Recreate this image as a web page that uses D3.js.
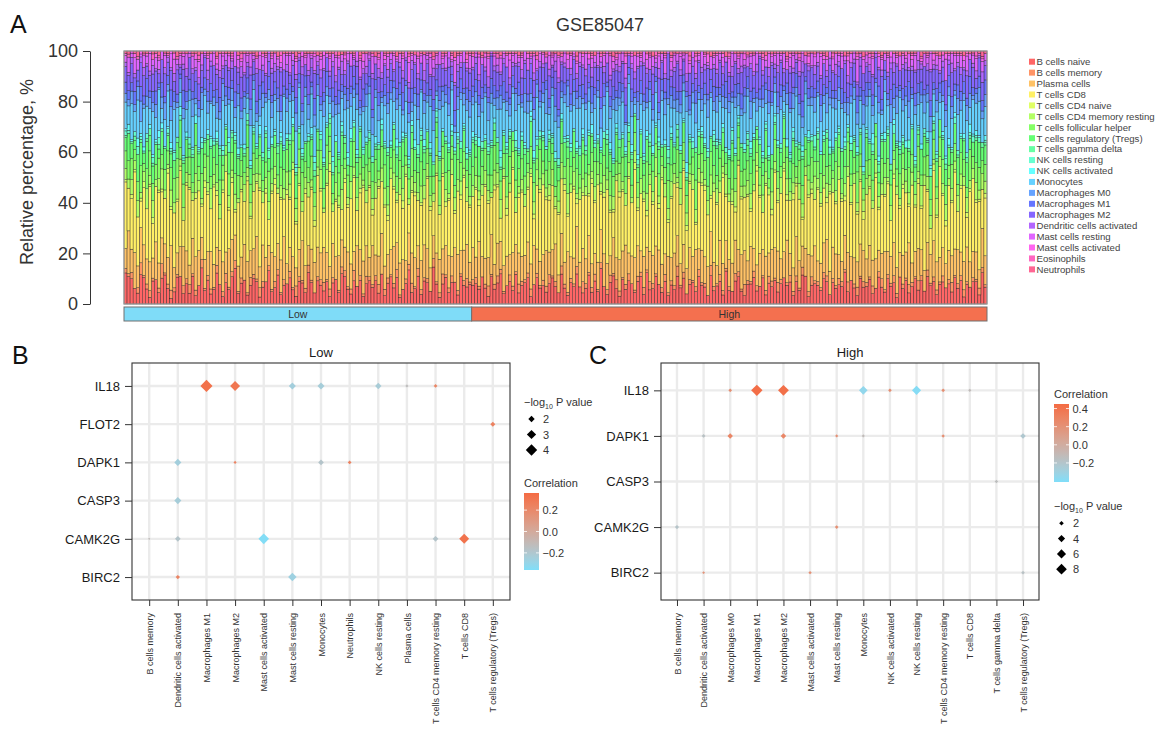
<!DOCTYPE html>
<html><head><meta charset="utf-8">
<script src="https://cdn.jsdelivr.net/npm/d3@7"></script>
<style>
body{margin:0;background:#fff;}
svg{font-family:"Liberation Sans",Arial,Helvetica,sans-serif;}
</style>
</head><body>
<svg id="chart" width="1158" height="731"></svg>
<script>
// ---------------- Panel A data ----------------
const groupNames = ["Low", "High"];
const groupSizes = [114, 169];
const cellTypes = ["B cells naive","B cells memory","Plasma cells","T cells CD8","T cells CD4 naive","T cells CD4 memory resting","T cells follicular helper","T cells regulatory (Tregs)","T cells gamma delta","NK cells resting","NK cells activated","Monocytes","Macrophages M0","Macrophages M1","Macrophages M2","Dendritic cells activated","Mast cells resting","Mast cells activated","Eosinophils","Neutrophils"];

const bCellsNaive = [14,9,12,7,4,10,13,6,3,8,11,5,9,14,7,2,6,10,12,4,8,5,11,3,9,13,6,10,4,7,12,8,3,9,6,11,14,5,8,10,4,7,12,9,3,6,10,13,5,8,11,4,7,9,12,6,3,10,8,5,13,9,4,11,7,6,10,3,8,12,5,9,14,6,4,11,7,10,3,8,12,6,9,5,11,4,8,13,7,10,3,6,9,12,5,8,11,4,7,10,6,13,9,3,8,11,5,10,7,4,12,8,6,9,
7,10,5,12,8,3,11,6,9,13,4,8,10,6,12,5,9,7,11,3,8,12,6,10,4,9,13,7,5,11,8,3,10,6,12,9,4,7,11,5,10,6,13,8,4,9,11,7,3,12,6,10,8,5,9,13,4,11,7,6,12,8,5,10,3,9,7,11,6,13,4,8,10,5,12,7,9,3,11,6,8,10,4,12,7,5,9,11,6,3,10,8,13,5,7,12,4,9,6,11,5,9,12,7,10,4,8,6,11,13,3,9,7,10,5,12,8,4,11,6,9,7,13,5,10,8,3,12,6,9,11,4,7,10,8,5,12,6,9,3,11,7,10,4,8,12,6,9,5,13,7,10,4,8,11,6,9,5,12,7,10,3,8,6,11,9,4,12,7];
const bCellsMemory = [2,1,3,0,2,4,1,2,3,1,0,2,5,1,2,3,2,1,0,3,2,4,1,2,0,3,1,2,2,1,3,0,2,4,1,2,3,1,2,0,1,3,2,1,4,2,0,2,1,3,2,1,2,0,3,1,4,2,1,2,3,1,0,2,2,4,1,3,2,0,1,2,3,1,2,5,0,2,1,3,2,1,2,4,0,3,2,1,2,3,1,0,2,2,4,1,3,2,1,2,0,3,1,2,4,1,2,3,0,2,1,2,3,1,
2,3,1,0,2,4,1,2,3,2,1,0,3,2,1,4,2,1,2,3,0,2,1,3,2,4,1,2,0,3,2,1,2,1,3,0,4,2,1,2,3,1,2,0,2,3,1,4,2,1,2,3,0,1,2,2,3,1,4,2,1,0,2,3,1,2,2,4,1,3,0,2,1,2,3,1,2,0,4,2,1,3,2,1,2,0,3,2,1,4,2,1,3,2,0,1,2,3,2,1,4,2,0,1,3,2,2,1,3,0,2,4,1,2,1,3,2,0,2,1,3,2,1,4,0,2,3,1,2,2,1,3,0,2,4,1,2,1,3,2,0,2,1,3,2,1,4,2,0,3,1,2,2,1,3,0,2,4,1,2,2,3,1,0,2,1,3,2,1];
const plasmaCells = [9,14,11,16,8,12,15,10,13,7,17,11,9,14,12,16,10,8,13,15,11,9,14,12,17,8,13,10,15,11,7,14,12,9,16,13,10,12,8,15,14,10,12,17,9,13,11,8,15,12,10,14,16,9,11,13,7,12,15,10,8,13,11,14,10,16,12,9,13,11,15,8,12,14,10,9,16,11,13,12,10,14,8,13,15,11,9,12,16,10,14,12,8,11,13,15,9,12,10,14,11,8,13,15,10,12,14,9,11,16,10,13,12,9,
12,10,15,9,13,11,16,8,14,12,10,13,9,15,11,14,12,8,13,10,16,11,9,14,12,10,13,15,8,12,11,14,10,9,16,13,12,11,14,10,9,13,12,15,11,8,14,10,12,13,16,9,11,14,12,10,13,8,15,11,12,14,10,9,13,11,16,12,8,14,10,13,11,15,9,12,14,10,13,11,8,15,12,10,14,11,13,9,16,12,10,14,11,8,13,12,15,10,11,14,13,9,12,16,10,11,14,12,8,13,15,10,12,11,9,14,13,10,16,12,11,8,14,12,10,13,9,15,11,12,14,10,13,8,12,16,11,9,14,12,10,13,11,15,9,12,14,10,8,13,11,16,12,10,14,9,13,11,12,15,10,12,14,9,13,11,8,15,12];
const tCellsCD8 = [30,14,24,36,18,9,28,20,34,12,25,31,16,22,38,13,27,19,33,10,26,35,15,21,29,11,32,24,17,37,20,13,28,34,16,23,9,30,25,18,36,12,27,21,33,15,29,10,24,35,19,26,14,31,22,37,17,28,11,32,20,25,13,34,23,16,30,38,12,27,21,9,33,18,26,35,14,24,29,17,36,11,22,31,19,28,13,34,25,15,30,21,37,10,26,32,18,23,14,33,27,12,35,20,29,16,24,38,11,28,22,31,15,25,
19,33,12,27,36,21,15,30,24,10,34,18,28,37,13,25,31,16,22,35,11,29,26,38,17,23,32,14,27,20,36,12,30,24,9,33,19,28,15,34,22,37,13,26,31,18,10,35,24,29,16,32,21,38,14,27,23,11,33,20,30,17,36,25,12,28,34,19,22,37,15,26,31,10,29,24,35,18,13,32,27,21,38,16,30,23,11,34,26,19,33,14,28,36,22,17,31,25,12,35,20,29,37,15,24,32,18,27,10,34,23,30,16,38,21,26,13,33,28,19,35,24,14,31,22,37,17,29,11,33,25,20,36,15,28,23,32,12,27,34,18,30,25,13,36,21,28,16,33,24,10,31,19,37,26,14,29,22,35,17,27,32,12,25,36,20,30,15,24];
const tCellsCD4Naive = [1,0,2,1,0,1,3,0,1,2,0,1,1,0,2,1,0,1,2,0,1,1,0,2,0,1,3,1,0,1,2,0,1,0,1,2,1,0,1,0,2,1,0,1,1,0,2,0,1,3,0,1,0,2,1,0,1,1,0,2,0,1,2,0,1,0,1,3,0,1,1,0,2,1,0,1,0,2,1,0,1,2,0,1,0,1,2,0,1,1,0,3,1,0,1,2,0,1,0,1,2,0,1,0,1,2,1,0,1,0,2,1,0,1,
0,1,2,0,1,1,0,2,1,0,1,3,0,1,0,2,1,0,1,1,2,0,1,0,1,2,0,1,1,0,3,1,0,1,2,0,1,0,1,2,1,0,1,2,0,1,1,0,2,1,0,1,0,3,1,0,1,2,0,1,0,2,1,0,1,1,0,2,0,1,2,1,0,1,0,1,3,0,1,0,1,0,2,1,0,1,2,0,1,0,1,1,0,2,1,0,1,0,2,1,1,0,1,2,0,3,1,0,1,0,1,2,0,1,1,0,2,1,0,1,0,1,2,0,1,0,1,1,3,0,1,0,2,1,0,1,1,0,2,0,1,2,0,1,0,1,2,1,0,1,0,3,1,0,1,2,0,1,1,0,1,0,2,1,0,1,1,0,2];
const tCellsCD4MemResting = [5,3,7,4,6,2,5,8,4,6,3,5,7,4,2,6,5,8,3,5,4,6,3,7,5,2,6,4,8,5,3,6,4,7,5,3,6,2,5,7,4,5,8,3,6,4,5,7,3,6,2,5,4,8,6,3,5,7,4,5,6,3,5,4,7,2,6,5,3,8,4,6,5,3,7,4,5,6,2,5,7,4,6,3,5,8,4,5,6,3,7,5,4,2,6,5,3,7,4,6,5,3,8,4,6,5,2,7,4,5,6,3,5,4,
4,6,3,5,7,4,2,6,5,8,3,5,4,7,6,3,5,4,6,2,5,7,4,6,3,5,8,4,5,6,3,7,4,5,2,6,5,4,7,3,6,5,3,8,4,6,5,3,7,4,5,6,2,5,4,7,3,6,5,4,8,3,5,6,4,7,5,2,6,4,5,3,7,5,6,4,3,5,8,4,6,5,3,7,4,5,6,2,5,4,7,6,3,5,4,8,5,3,6,4,5,7,3,6,4,5,2,7,5,4,6,3,8,5,4,6,5,3,7,4,6,2,5,4,7,5,3,6,4,8,5,3,6,4,5,7,2,5,6,4,3,7,5,4,6,5,3,8,4,6,5,2,7,4,5,6,3,5,4,7,5,4,6,3,5,7,4,6,5];
const tCellsFollicular = [8,6,10,5,7,9,4,8,11,6,7,9,5,10,6,8,12,7,5,9,6,8,4,10,7,9,6,11,5,8,7,10,6,4,9,7,8,11,6,5,9,7,10,6,8,4,7,12,6,9,5,8,7,10,6,9,4,8,11,7,6,10,5,8,7,9,11,6,4,8,10,7,5,9,6,12,8,7,5,10,7,6,9,4,8,11,7,5,10,6,8,9,4,7,12,6,8,10,5,7,9,6,8,11,5,7,10,6,4,9,8,7,6,10,
7,9,5,8,11,6,7,10,4,8,6,9,12,5,7,8,10,6,4,9,8,5,11,7,6,10,8,4,9,7,6,12,8,5,10,7,9,6,4,8,11,6,7,9,5,10,8,6,4,12,7,9,5,8,6,10,7,11,5,8,6,9,4,7,10,8,5,11,6,9,7,4,8,12,6,7,10,5,9,8,6,10,7,4,8,11,5,9,7,6,10,8,12,5,7,9,6,4,8,10,7,5,11,8,6,9,4,10,7,8,6,12,5,9,7,10,6,8,4,11,9,6,7,10,5,8,11,6,4,9,7,8,10,5,12,6,9,7,4,8,10,7,5,9,8,6,11,4,7,10,6,9,5,8,12,7,6,10,8,5,9,7,4,11,6,8,10,5,7];
const tCellsTregs = [6,9,7,4,10,8,5,11,7,6,9,4,8,10,7,5,9,6,12,8,7,4,10,8,6,9,5,7,11,6,8,10,4,7,9,6,12,8,5,7,10,6,9,4,8,7,11,5,9,6,8,10,7,4,12,6,9,7,5,8,11,7,6,9,4,10,8,5,7,12,6,9,8,4,10,7,6,11,5,8,9,7,4,10,6,8,12,5,9,7,6,10,8,4,7,11,6,9,5,8,10,4,7,9,6,12,8,5,10,7,6,9,4,8,
9,6,10,7,4,8,11,6,9,5,7,10,8,4,12,6,9,7,5,10,8,6,4,11,7,9,5,10,6,8,12,4,7,9,6,10,5,8,11,7,6,9,4,8,10,7,5,12,6,9,8,4,10,7,6,11,5,8,9,6,7,10,4,9,6,12,8,5,7,10,6,9,4,11,8,6,7,10,5,9,12,6,8,4,10,7,9,5,11,6,8,7,10,4,9,6,12,8,5,7,10,6,9,4,8,11,7,5,10,6,9,8,4,12,7,6,10,5,9,8,6,11,7,4,10,8,6,9,5,12,7,10,6,4,8,9,11,5,7,10,8,4,9,6,12,7,5,10,8,6,9,4,11,7,10,6,8,5,9,12,6,8,10,4,7,9,11,5,8];
const tCellsGammaDelta = [1,0,1,2,0,1,0,1,3,1,0,2,1,0,1,1,0,2,0,1,0,2,1,0,1,0,1,2,1,0,1,3,0,1,0,2,1,1,0,1,2,0,1,0,1,1,2,0,1,0,3,1,0,1,2,0,1,0,1,1,0,1,2,1,0,1,0,2,1,0,1,1,3,0,1,0,2,1,0,1,1,0,1,2,0,1,1,0,2,1,0,1,0,1,3,0,1,2,1,0,1,0,2,1,0,1,1,0,1,2,0,1,0,1,
1,2,0,1,0,1,1,3,0,1,0,2,1,0,1,1,0,2,1,0,1,0,1,2,0,1,3,0,1,1,0,2,0,1,1,0,1,2,0,1,0,1,1,0,2,1,0,1,3,0,1,0,2,1,1,0,1,0,2,1,0,1,0,1,2,1,0,3,1,0,1,1,0,2,0,1,1,0,1,2,1,0,2,0,1,1,0,1,2,0,3,1,0,1,0,2,1,1,0,1,0,2,1,0,1,1,0,2,1,0,1,0,1,3,0,1,2,0,1,1,1,0,1,2,0,1,0,1,1,2,0,1,0,3,1,0,1,2,0,1,2,1,0,1,0,1,2,0,1,1,0,3,1,0,1,2,0,1,0,1,0,1,2,1,0,1,0,2,1];
const nkCellsResting = [2,1,0,2,3,1,1,2,0,2,1,3,0,1,2,1,4,0,2,1,1,3,2,0,1,2,1,0,3,2,1,1,2,0,4,1,2,1,0,2,3,1,2,1,0,2,1,3,0,2,1,2,1,0,3,1,2,2,1,0,2,1,3,0,2,1,1,2,4,0,1,2,1,3,0,2,1,1,2,0,3,2,1,0,2,1,2,1,0,3,2,1,1,2,0,1,4,2,1,0,2,1,3,1,0,2,1,2,0,1,3,1,2,1,
1,2,0,3,1,2,1,0,2,4,1,1,2,0,3,1,2,1,0,2,1,3,2,1,0,2,1,1,3,0,2,1,2,0,1,4,1,2,1,0,2,1,0,3,2,1,1,2,0,2,1,3,1,0,2,1,2,1,4,0,1,2,1,0,3,2,1,2,0,1,2,1,3,0,2,1,1,2,0,3,2,1,0,2,1,4,1,2,0,1,3,2,1,0,2,1,2,1,0,3,1,2,1,0,2,3,1,1,2,0,1,2,4,1,0,2,1,3,1,0,2,1,2,0,3,1,1,2,0,2,1,3,0,1,2,1,2,0,4,1,1,2,0,3,1,2,1,0,2,1,3,1,2,0,1,2,1,0,3,2,1,0,2,1,3,1,2,0,1];
const nkCellsActivated = [1,2,1,0,3,1,2,0,2,1,1,3,2,0,1,2,1,0,4,1,2,0,1,3,1,2,0,2,1,1,3,0,2,1,2,0,1,3,1,2,0,2,1,1,4,0,2,1,3,1,0,2,1,2,0,3,1,1,2,0,1,3,2,0,1,2,1,0,2,3,1,1,0,2,4,1,2,0,1,2,1,0,3,1,2,1,0,2,1,3,0,2,1,1,2,4,0,1,2,1,3,0,1,2,1,0,2,3,1,2,0,1,2,1,
2,1,3,0,2,1,1,2,0,3,1,2,1,0,4,1,2,1,0,2,3,1,0,2,1,2,1,3,0,2,1,1,2,0,3,1,2,0,1,4,1,2,1,0,2,3,1,2,0,1,2,1,3,0,2,1,1,2,0,3,1,2,0,2,1,3,1,0,2,1,4,1,2,0,1,2,3,1,0,2,1,1,2,0,3,1,2,1,0,2,1,3,2,0,1,2,1,4,0,1,2,0,1,3,1,2,1,0,2,1,3,1,0,2,1,2,0,3,1,2,1,0,2,1,3,1,2,0,2,1,1,4,0,2,1,3,1,0,2,1,2,1,3,0,1,2,1,2,0,3,1,2,1,0,2,1,3,1,2,0,1,2,0,3,1,2,1,0,2];
const monocytes = [12,6,17,9,14,4,19,11,7,15,10,18,5,13,16,8,20,11,6,14,9,17,12,4,15,10,19,7,13,16,5,11,18,8,14,12,6,20,10,15,7,13,17,9,4,16,11,19,8,14,12,5,18,10,15,7,13,17,9,20,6,14,11,16,8,19,12,4,15,10,17,7,13,18,9,11,16,5,14,12,19,8,15,10,6,17,13,20,9,11,16,7,14,12,4,18,10,15,8,13,17,11,6,19,9,14,12,16,5,10,18,8,13,15,
10,16,7,13,19,9,15,5,12,18,11,14,6,17,8,20,12,10,15,4,13,18,9,16,11,7,19,12,14,6,17,10,15,8,13,20,9,16,11,5,14,18,7,12,16,10,19,6,13,15,9,17,11,4,14,12,18,8,16,10,13,7,19,11,15,9,17,5,12,14,20,8,16,10,13,6,18,11,15,9,12,17,7,14,19,10,16,4,13,11,18,9,15,6,12,20,8,14,17,10,11,15,5,13,18,9,16,12,7,19,10,14,8,17,11,13,6,15,20,9,12,16,10,4,14,18,8,13,15,11,19,7,12,16,9,17,10,14,5,13,18,11,15,8,12,20,9,16,6,14,13,10,17,7,15,11,19,12,8,16,10,14,13,6,17,11,15,9,12];
const macrophagesM0 = [4,2,6,3,5,7,2,4,5,3,6,1,4,8,3,5,4,2,6,4,3,5,7,2,4,6,3,5,1,4,6,3,7,4,2,5,4,6,3,5,2,6,4,3,7,5,2,4,6,3,5,4,1,6,3,4,7,2,5,4,6,3,4,5,2,7,4,3,6,5,4,2,8,3,5,4,6,3,2,5,4,6,3,7,2,5,4,3,6,4,5,2,7,3,4,6,5,1,4,3,5,7,2,4,6,3,5,4,2,6,3,5,4,7,
3,5,4,6,2,7,4,3,5,6,1,4,5,3,7,4,2,6,5,3,4,6,2,5,8,3,4,6,5,2,4,7,3,5,4,6,2,3,5,4,6,3,7,4,2,5,4,6,3,5,1,4,6,3,7,5,4,2,6,4,5,3,4,7,2,6,4,5,3,4,6,2,5,8,3,4,5,6,2,4,7,3,5,4,6,2,4,5,3,6,4,7,2,5,3,4,6,5,1,4,3,6,5,4,2,7,3,5,4,6,3,4,5,2,6,4,7,3,5,4,6,2,4,5,3,6,4,2,7,5,3,4,6,4,2,5,3,6,4,8,3,5,4,6,2,4,5,3,7,4,6,2,5,4,3,6,4,5,2,7,4,3,6,5,2,4,6,3,5];
const macrophagesM1 = [5,3,4,6,2,5,4,7,3,4,6,2,5,3,4,6,5,3,2,7,4,5,3,6,4,2,5,4,7,3,5,6,2,4,5,3,6,4,5,2,7,4,3,5,6,4,2,5,3,6,4,7,3,4,5,2,6,4,3,5,4,2,6,5,3,4,7,3,5,4,6,2,4,5,3,6,4,3,7,4,5,3,4,6,2,5,4,6,3,4,5,7,2,4,6,3,5,4,2,6,3,4,5,6,2,4,7,3,5,4,6,2,4,5,
4,6,3,5,4,2,6,5,3,4,7,4,3,5,2,6,4,5,3,6,5,2,4,6,3,4,5,7,3,4,6,2,5,4,3,6,5,4,2,7,3,5,4,6,2,4,5,3,6,4,7,3,5,2,4,6,3,5,4,6,2,4,5,3,7,4,6,3,5,4,2,6,4,5,3,4,6,2,5,7,4,3,5,6,4,2,5,4,7,3,6,4,5,2,4,6,3,5,4,3,6,5,2,4,7,3,5,4,6,2,4,5,3,6,4,5,2,7,4,3,5,6,4,2,5,3,6,4,5,7,3,4,2,6,5,4,3,5,6,4,2,5,4,7,3,6,4,5,2,4,6,3,5,4,7,2,5,4,3,6,4,5,3,6,4,2,5,4,6];
const macrophagesM2 = [7,5,9,6,4,8,10,5,7,6,9,4,8,11,6,7,5,9,3,8,6,10,7,4,8,6,9,5,7,12,6,8,4,9,7,5,10,6,8,7,5,9,6,11,7,4,8,6,9,5,7,10,6,8,4,9,7,6,11,5,8,6,9,4,7,10,6,5,8,7,9,3,6,10,8,5,7,9,6,4,8,11,6,7,5,9,6,8,4,10,7,6,9,5,8,12,6,7,4,9,6,8,5,10,7,6,9,4,8,7,5,11,6,8,
6,8,5,10,7,4,9,6,8,5,7,11,6,4,9,7,8,5,10,6,7,4,9,8,6,10,5,7,12,6,8,4,9,7,5,10,6,8,7,4,9,6,11,5,8,7,6,9,4,10,7,5,8,6,9,7,12,5,6,8,4,10,7,6,9,5,8,11,6,7,4,9,8,5,10,6,7,9,4,8,6,11,5,7,9,6,8,4,10,7,5,9,6,8,12,5,7,6,9,4,8,10,6,5,9,7,4,8,11,6,7,9,5,8,6,10,4,7,9,6,5,8,12,6,7,9,4,10,6,8,5,7,9,6,11,4,8,7,5,10,6,9,7,4,8,10,6,5,9,7,11,6,8,4,7,9,5,10,6,8,7,5,9,6,10,4,8,7,6];
const dendriticActivated = [2,1,3,2,0,2,4,1,2,3,1,2,0,3,2,1,4,2,1,2,3,0,2,1,3,2,1,4,2,0,2,3,1,2,1,3,0,2,4,1,2,3,1,2,0,2,1,3,2,4,1,2,0,3,1,2,2,1,3,0,2,4,1,2,3,1,0,2,2,3,1,4,2,1,0,3,2,1,2,3,1,2,0,4,2,1,3,2,1,0,2,3,1,2,4,1,2,0,3,2,1,3,2,0,2,1,4,2,1,3,2,0,1,2,
1,3,2,0,2,4,1,2,3,1,2,0,3,2,1,2,4,1,0,2,3,1,2,2,0,3,1,4,2,1,2,0,3,1,2,2,1,3,0,4,2,1,2,3,0,2,1,3,2,1,4,0,2,3,1,2,1,2,0,3,2,4,1,2,0,3,2,1,2,1,3,0,4,2,1,2,3,1,0,2,2,1,3,0,2,4,1,2,3,1,0,2,2,3,1,2,0,4,1,2,3,1,2,0,3,2,1,2,4,0,2,1,3,2,1,0,2,3,1,4,2,0,1,3,2,2,1,4,0,2,3,1,2,1,3,0,2,2,4,1,0,2,3,1,2,1,4,2,0,3,1,2,2,1,3,0,2,4,1,2,3,1,2,0,2,3,1,4,2];
const mastResting = [3,5,2,7,4,1,6,3,8,2,5,4,3,6,1,5,7,2,4,3,6,2,5,3,8,4,1,5,3,6,2,7,4,3,5,1,6,4,2,8,3,5,2,4,6,3,7,1,4,5,3,2,6,4,8,3,5,2,4,3,7,1,5,3,4,6,2,5,3,9,4,2,6,3,5,1,4,7,3,5,2,6,3,4,8,2,5,3,6,1,4,5,3,7,2,4,6,3,5,2,8,3,4,6,2,5,3,1,7,4,3,5,2,6,
4,2,6,3,5,7,1,4,3,6,2,5,8,3,4,2,6,3,5,1,7,4,3,5,2,6,4,3,9,2,5,3,6,1,4,5,3,7,2,4,3,6,2,5,4,8,3,2,5,4,6,1,3,7,4,2,5,3,6,4,2,5,3,7,1,4,6,3,5,2,8,4,3,5,2,6,4,1,5,3,6,3,4,2,7,5,3,4,6,2,5,3,8,4,1,5,3,6,2,4,5,2,7,3,4,6,2,5,3,4,1,6,3,5,7,2,4,3,6,4,3,5,2,6,4,3,8,2,5,4,3,6,1,4,5,3,7,2,4,3,6,4,2,5,3,7,4,1,5,3,6,2,4,5,3,8,2,4,6,3,5,3,6,2,4,5,1,4,3];
const mastActivated = [1,0,1,2,0,1,0,1,1,0,2,1,0,1,0,1,3,0,1,1,0,1,0,2,1,0,1,1,0,1,2,0,1,0,1,1,0,2,1,0,1,0,1,0,2,1,1,0,1,0,1,3,0,1,1,0,1,0,2,1,0,1,1,0,1,2,0,1,0,1,1,0,2,1,0,1,0,1,3,0,1,1,0,1,0,2,1,0,1,1,0,1,0,2,1,0,1,1,0,1,2,0,1,0,1,1,0,2,1,0,1,0,1,1,
0,1,1,0,2,1,0,1,0,1,1,0,3,1,0,1,1,0,2,0,1,0,1,1,0,2,1,0,1,0,1,2,0,1,1,0,1,0,2,1,0,1,0,1,1,0,2,1,0,1,3,0,1,0,1,1,0,2,1,0,1,1,0,1,0,2,1,0,1,1,0,1,0,2,1,0,1,3,0,1,1,0,2,0,1,1,0,1,0,2,1,1,0,1,0,1,2,0,1,1,0,1,0,1,2,1,0,1,1,0,3,0,1,0,1,2,1,0,1,0,1,1,0,2,0,1,1,0,1,0,2,1,0,1,1,0,1,2,0,1,0,1,1,0,2,1,0,1,0,1,1,3,0,1,0,2,1,0,1,1,0,2,1,0,1,1,0,1,0];
const eosinophils = [0,1,0,0,1,0,1,0,0,2,0,1,0,0,1,0,0,1,0,1,0,0,1,0,2,0,0,1,0,0,1,0,1,0,0,1,0,0,2,0,1,0,0,1,0,0,1,0,1,0,0,2,0,0,1,0,1,0,0,1,0,0,1,0,1,0,0,1,0,2,0,0,1,0,0,1,0,1,0,0,1,0,0,2,0,1,0,0,1,0,0,1,0,1,0,0,2,0,0,1,0,1,0,0,1,0,0,1,0,1,0,0,2,0,
1,0,0,1,0,1,0,0,2,0,0,1,0,1,0,0,1,0,0,1,0,2,0,0,1,0,1,0,0,1,0,0,1,0,2,0,0,1,0,1,0,0,1,0,0,1,0,2,0,0,1,0,1,0,0,1,0,0,1,0,2,0,0,1,0,1,0,0,1,0,0,2,0,1,0,0,1,0,0,1,0,1,0,0,2,0,0,1,0,1,0,0,1,0,0,2,0,1,0,0,1,0,0,1,0,1,0,2,0,0,1,0,0,1,0,1,0,0,2,0,0,1,0,1,0,0,1,0,0,2,0,1,0,0,1,0,1,0,0,1,0,0,2,0,1,0,0,1,0,1,0,0,1,0,2,0,0,1,0,0,1,0,1,0,0,2,0,1,0];
const neutrophils = [1,1,0,1,2,0,1,1,0,1,1,2,0,1,1,0,1,2,1,0,1,0,1,1,2,1,0,1,1,0,2,1,0,1,1,1,0,2,1,1,0,1,1,2,0,1,1,0,1,1,2,0,1,1,0,1,2,1,0,1,1,1,0,2,1,0,1,1,1,0,2,1,1,0,1,1,0,2,1,1,0,1,2,1,0,1,1,1,0,2,1,1,0,1,1,2,0,1,1,0,1,2,1,0,1,1,0,1,2,1,1,0,1,1,
1,0,1,2,1,1,0,1,1,2,0,1,1,0,1,2,1,0,1,1,1,2,0,1,1,0,1,1,2,1,0,1,1,0,2,1,1,0,1,1,2,0,1,1,0,1,2,1,1,0,1,1,0,2,1,1,0,1,1,2,0,1,1,1,0,2,1,1,0,1,1,2,0,1,1,0,1,1,2,1,1,0,1,2,1,0,1,1,1,0,2,1,1,0,1,1,2,0,1,1,0,1,1,2,1,0,1,1,0,2,1,1,1,0,1,1,2,0,1,1,1,0,2,1,1,0,1,1,2,0,1,1,0,1,2,1,1,0,1,1,2,1,0,1,1,1,0,2,1,1,0,1,1,2,0,1,1,0,1,1,1,2,0,1,1,0,1,2,1];

const cellSeries = [bCellsNaive,bCellsMemory,plasmaCells,tCellsCD8,tCellsCD4Naive,tCellsCD4MemResting,tCellsFollicular,tCellsTregs,tCellsGammaDelta,nkCellsResting,nkCellsActivated,monocytes,macrophagesM0,macrophagesM1,macrophagesM2,dendriticActivated,mastResting,mastActivated,eosinophils,neutrophils];
const yTicksA = [0, 20, 40, 60, 80, 100];

// ---------------- Panel B data (Low) ----------------
const lowGenes = ["IL18","FLOT2","DAPK1","CASP3","CAMK2G","BIRC2"];
const lowCells = ["B cells memory","Dendritic cells activated","Macrophages M1","Macrophages M2","Mast cells activated","Mast cells resting","Monocytes","Neutrophils","NK cells resting","Plasma cells","T cells CD4 memory resting","T cells CD8","T cells regulatory (Tregs)"];
const lowPtGene = ["IL18","IL18","IL18","IL18","IL18","IL18","IL18","FLOT2","DAPK1","DAPK1","DAPK1","DAPK1","CASP3","CAMK2G","CAMK2G","CAMK2G","CAMK2G","CAMK2G","BIRC2","BIRC2"];
const lowPtCell = ["Macrophages M1","Macrophages M2","Mast cells resting","Monocytes","NK cells resting","Plasma cells","T cells CD4 memory resting","T cells regulatory (Tregs)","Dendritic cells activated","Macrophages M2","Monocytes","Neutrophils","Dendritic cells activated","B cells memory","Dendritic cells activated","Mast cells activated","T cells CD4 memory resting","T cells CD8","Dendritic cells activated","Mast cells resting"];
const lowPtCor = [0.33,0.30,-0.25,-0.24,-0.23,-0.13,0.22,0.24,-0.25,0.23,-0.18,0.24,-0.24,-0.12,-0.18,-0.35,-0.18,0.32,0.23,-0.27];
const lowPtLogP = [4.4,3.3,2.2,2.2,2.0,1.3,1.4,1.65,2.2,1.3,1.8,1.4,2.2,1.2,1.8,3.6,1.8,3.3,1.5,2.7];
const lowSizeBreaks = [2, 3, 4];
const lowCorTicks = [0.2, 0.0, -0.2];
const lowCorLimits = [-0.36, 0.36];

// ---------------- Panel C data (High) ----------------
const highGenes = ["IL18","DAPK1","CASP3","CAMK2G","BIRC2"];
const highCells = ["B cells memory","Dendritic cells activated","Macrophages M0","Macrophages M1","Macrophages M2","Mast cells activated","Mast cells resting","Monocytes","NK cells activated","NK cells resting","T cells CD4 memory resting","T cells CD8","T cells gamma delta","T cells regulatory (Tregs)"];
const highPtGene = ["IL18","IL18","IL18","IL18","IL18","IL18","IL18","IL18","DAPK1","DAPK1","DAPK1","DAPK1","DAPK1","DAPK1","DAPK1","CASP3","CAMK2G","CAMK2G","BIRC2","BIRC2","BIRC2"];
const highPtCell = ["Macrophages M0","Macrophages M1","Macrophages M2","Monocytes","NK cells activated","NK cells resting","T cells CD4 memory resting","T cells CD8","Dendritic cells activated","Macrophages M0","Macrophages M2","Mast cells resting","Monocytes","T cells CD4 memory resting","T cells regulatory (Tregs)","T cells gamma delta","B cells memory","Mast cells resting","Dendritic cells activated","Mast cells activated","T cells regulatory (Tregs)"];
const highPtCor = [0.22,0.43,0.42,-0.35,0.22,-0.39,0.22,-0.12,-0.17,0.28,0.28,0.20,-0.12,0.22,-0.22,-0.14,-0.19,0.22,0.18,0.20,-0.17];
const highPtLogP = [1.5,9.0,8.2,5.4,1.5,6.0,1.5,1.3,1.6,2.6,2.6,1.3,1.3,1.4,2.6,1.5,1.8,1.5,1.2,1.4,1.5];
const highSizeBreaks = [2, 4, 6, 8];
const highCorTicks = [0.4, 0.2, 0.0, -0.2];
const highCorLimits = [-0.41, 0.45];

// ---------------- styles ----------------
const palette = ["#FF6666","#FF9466","#FFC266","#FFF066","#E0FF66","#B3FF66","#85FF66","#66FF75","#66FFA3","#66FFD1","#66FFFF","#66D1FF","#66A3FF","#6675FF","#8566FF","#B366FF","#E066FF","#FF66F0","#FF66C2","#FF6694"];
const groupColors = ["#7FDCF8", "#F4704F"];
const corLow = "#7FDEF9", corHigh = "#F46B43";

const svg = d3.select("#chart");
const fmt = v => (v < 0 ? "\u2212" : "") + Math.abs(v).toFixed(1);

// ================= Panel A =================
const nSamples = d3.sum(groupSizes);
const samples = d3.range(nSamples).map(i => {
  const raw = cellSeries.map(s => (s[i] === undefined ? 0 : s[i]));
  const tot = d3.sum(raw) || 1;
  const o = {id: i};
  cellTypes.forEach((c, k) => { o[c] = raw[k] / tot * 100; });
  return o;
});
const stacked = d3.stack().keys(cellTypes)(samples);

const xA = d3.scaleBand().domain(d3.range(nSamples)).range([124, 987]).padding(0);
const yA = d3.scaleLinear().domain([0, 100]).range([304, 51]);
const colorA = d3.scaleOrdinal().domain(cellTypes).range(palette);

const gA = svg.append("g");
gA.append("text").attr("x", 10).attr("y", 33).attr("font-size", 25).attr("fill", "#111").text("A");
gA.append("text").attr("x", 600).attr("y", 31).attr("text-anchor", "middle").attr("font-size", 18).attr("fill", "#333").text("GSE85047");

const layers = gA.append("g").selectAll("g").data(stacked).join("g").attr("fill", d => colorA(d.key));
layers.selectAll("rect").data(d => d).join("rect")
  .attr("x", d => xA(d.data.id))
  .attr("width", xA.bandwidth())
  .attr("y", d => yA(d[1]))
  .attr("height", d => Math.max(0, yA(d[0]) - yA(d[1])))
  .attr("stroke", "#1e1e1e").attr("stroke-width", 0.45).attr("stroke-opacity", 0.85);

gA.append("rect").attr("x", 124).attr("y", 51).attr("width", 863).attr("height", 253)
  .attr("fill", "none").attr("stroke", "#9a9a9a").attr("stroke-width", 1.2);

const axA = d3.axisLeft(yA).tickValues(yTicksA).tickSize(7).tickSizeOuter(0).tickPadding(5);
const axGA = gA.append("g").attr("transform", "translate(90,0)").call(axA);
axGA.selectAll("text").attr("font-size", 18).attr("fill", "#333").attr("font-family", "Liberation Sans, Arial, sans-serif");
axGA.selectAll("line,path").attr("stroke", "#333");
gA.append("text").attr("transform", "translate(33,172) rotate(-90)").attr("text-anchor", "middle")
  .attr("font-size", 18).attr("fill", "#333").text("Relative percentage, %");

let start = 0;
groupNames.forEach((g, i) => {
  const x0 = xA(start), x1 = xA(start + groupSizes[i] - 1) + xA.bandwidth();
  gA.append("rect").attr("x", x0).attr("y", 307).attr("width", x1 - x0).attr("height", 14)
    .attr("fill", groupColors[i]).attr("stroke", "#707070").attr("stroke-width", 1);
  gA.append("text").attr("x", (x0 + x1) / 2).attr("y", 317.5).attr("text-anchor", "middle")
    .attr("font-size", 10.5).attr("fill", "#333").text(g);
  start += groupSizes[i];
});

const legA = gA.append("g");
cellTypes.forEach((c, i) => {
  const yy = 61.7 + i * 10.93;
  legA.append("rect").attr("x", 1029).attr("y", yy - 3).attr("width", 6).attr("height", 6).attr("fill", colorA(c));
  legA.append("text").attr("x", 1036.5).attr("y", yy + 3.3).attr("font-size", 9.6).attr("fill", "#444").text(c);
});

// ================= Dot plots =================
function diamond(w) { const r = w / 2; return `M0,${-r}L${r},0L0,${r}L${-r},0Z`; }

function dotPanel(cfg) {
  const g = svg.append("g");
  const x = d3.scalePoint().domain(cfg.cells).range([cfg.x0, cfg.x1]).padding(0.6);
  const y = d3.scalePoint().domain(cfg.genes).range([cfg.y0, cfg.y1]).padding(0.6);
  const area = d3.scaleLinear().domain(cfg.areaDomain).range(cfg.areaRange);
  const wOf = v => Math.sqrt(Math.max(area(v), 5));
  const col = d3.scaleLinear().domain(cfg.corLimits).range([corLow, corHigh]).interpolate(d3.interpolateLab).clamp(true);

  g.append("text").attr("x", cfg.letterX).attr("y", 364).attr("font-size", 25).attr("fill", "#111").text(cfg.letter);
  g.append("text").attr("x", (cfg.x0 + cfg.x1) / 2).attr("y", 357).attr("text-anchor", "middle")
    .attr("font-size", 13).attr("fill", "#1a1a1a").text(cfg.title);

  g.append("g").selectAll("line").data(cfg.genes).join("line")
    .attr("x1", cfg.x0).attr("x2", cfg.x1).attr("y1", d => y(d)).attr("y2", d => y(d))
    .attr("stroke", "#EBEBEB").attr("stroke-width", 2.4);
  g.append("g").selectAll("line").data(cfg.cells).join("line")
    .attr("y1", cfg.y0).attr("y2", cfg.y1).attr("x1", d => x(d)).attr("x2", d => x(d))
    .attr("stroke", "#EBEBEB").attr("stroke-width", 2.4);

  const pts = cfg.ptGene.map((gn, i) => ({gene: gn, cell: cfg.ptCell[i], cor: cfg.ptCor[i], lp: cfg.ptLogP[i]}));
  g.append("g").selectAll("path").data(pts).join("path")
    .attr("transform", d => `translate(${x(d.cell)},${y(d.gene)})`)
    .attr("d", d => diamond(wOf(d.lp)))
    .attr("fill", d => col(d.cor));

  g.append("rect").attr("x", cfg.x0).attr("y", cfg.y0).attr("width", cfg.x1 - cfg.x0).attr("height", cfg.y1 - cfg.y0)
    .attr("fill", "none").attr("stroke", "#333").attr("stroke-width", 1.1);

  const ay = d3.axisLeft(y).tickSize(7).tickPadding(5).tickSizeOuter(0);
  const gy = g.append("g").attr("transform", `translate(${cfg.x0},0)`).call(ay);
  gy.select(".domain").remove();
  gy.selectAll("line").attr("stroke", "#333");
  gy.selectAll("text").attr("font-size", 13).attr("fill", "#1a1a1a").attr("font-family", "Liberation Sans, Arial, sans-serif");

  const ax = d3.axisBottom(x).tickSize(6).tickPadding(0).tickSizeOuter(0);
  const gx = g.append("g").attr("transform", `translate(0,${cfg.y1})`).call(ax);
  gx.select(".domain").remove();
  gx.selectAll("line").attr("stroke", "#333");
  gx.selectAll("text").attr("font-size", 9).attr("fill", "#333").attr("font-family", "Liberation Sans, Arial, sans-serif")
    .attr("transform", "rotate(-90)").attr("text-anchor", "end").attr("x", -13).attr("y", 0).attr("dy", "0.35em");

  function sizeLegend(tx, ty) {
    const t = g.append("text").attr("x", tx).attr("y", ty).attr("font-size", 11).attr("fill", "#333");
    t.append("tspan").text("\u2212log");
    t.append("tspan").attr("font-size", 7).attr("dy", 3).text("10");
    t.append("tspan").attr("dy", -3).text(" P value");
    cfg.sizeBreaks.forEach((v, i) => {
      const yy = ty + cfg.sizeStep * (i + 1) - 2;
      g.append("path").attr("transform", `translate(${tx + 7.5},${yy})`).attr("d", diamond(wOf(v))).attr("fill", "#000");
      g.append("text").attr("x", tx + 19).attr("y", yy + 4).attr("font-size", 11).attr("fill", "#333").text(v);
    });
  }
  function colorLegend(tx, ty) {
    g.append("text").attr("x", tx).attr("y", ty).attr("font-size", 11).attr("fill", "#333").text("Correlation");
    const bx = tx, by0 = ty + cfg.cbarGap, by1 = by0 + cfg.cbarH, bw = 15;
    const cy = d3.scaleLinear().domain(cfg.corLimits).range([by1, by0]);
    const gid = "grad" + cfg.letter;
    const grad = svg.append("defs").append("linearGradient").attr("id", gid)
      .attr("x1", 0).attr("y1", 1).attr("x2", 0).attr("y2", 0);
    d3.range(0, 1.0001, 0.05).forEach(t => {
      const v = cfg.corLimits[0] + t * (cfg.corLimits[1] - cfg.corLimits[0]);
      grad.append("stop").attr("offset", t).attr("stop-color", col(v));
    });
    g.append("rect").attr("x", bx).attr("y", by0).attr("width", bw).attr("height", by1 - by0).attr("fill", `url(#${gid})`);
    cfg.corTicks.forEach(v => {
      const yy = cy(v);
      g.append("line").attr("x1", bx).attr("x2", bx + 3).attr("y1", yy).attr("y2", yy).attr("stroke", "#fff").attr("stroke-width", 0.8);
      g.append("line").attr("x1", bx + bw - 3).attr("x2", bx + bw).attr("y1", yy).attr("y2", yy).attr("stroke", "#fff").attr("stroke-width", 0.8);
      g.append("text").attr("x", bx + bw + 3.5).attr("y", yy + 4).attr("font-size", 11).attr("fill", "#333").text(fmt(v));
    });
  }
  cfg.legends(sizeLegend, colorLegend);
}

dotPanel({
  letter: "B", letterX: 12, title: "Low",
  x0: 132, x1: 510, y0: 363, y1: 600,
  cells: lowCells, genes: lowGenes,
  ptGene: lowPtGene, ptCell: lowPtCell, ptCor: lowPtCor, ptLogP: lowPtLogP,
  areaDomain: [2, 4], areaRange: [41, 130],
  sizeBreaks: lowSizeBreaks, sizeStep: 15.5,
  corTicks: lowCorTicks, corLimits: lowCorLimits, cbarGap: 6.5, cbarH: 77,
  legends: (s, c) => { s(524, 405.5); c(524, 486.5); }
});

dotPanel({
  letter: "C", letterX: 589, title: "High",
  x0: 661, x1: 1039, y0: 363, y1: 600,
  cells: highCells, genes: highGenes,
  ptGene: highPtGene, ptCell: highPtCell, ptCor: highPtCor, ptLogP: highPtLogP,
  areaDomain: [2, 8], areaRange: [21, 114],
  sizeBreaks: highSizeBreaks, sizeStep: 15.3,
  corTicks: highCorTicks, corLimits: highCorLimits, cbarGap: 6, cbarH: 78,
  legends: (s, c) => { c(1054, 398); s(1054, 510); }
});

cellSeries.forEach((s, i) => { if (s.length !== nSamples) console.warn(cellTypes[i], s.length); });
</script>
</body></html>
